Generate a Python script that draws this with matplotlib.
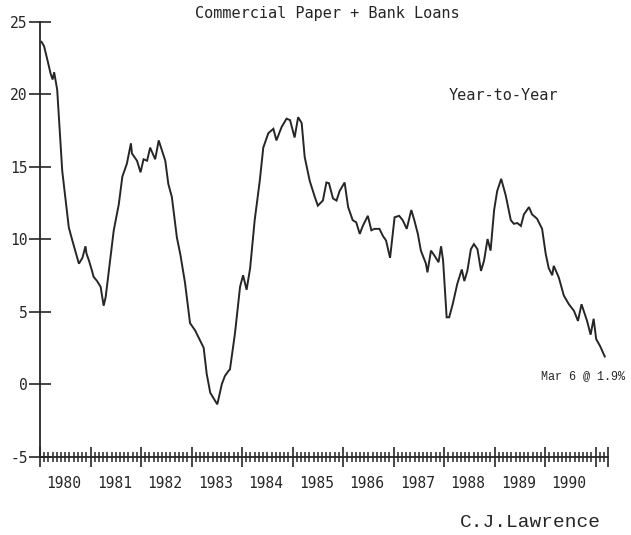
import matplotlib
matplotlib.use("Agg")
import matplotlib.pyplot as plt
from matplotlib.ticker import FixedLocator, NullFormatter
import matplotlib.transforms as mtransforms

# Year-over-year growth of commercial paper + bank loans (%), weekly readings
years = [
    1980.03, 1980.08, 1980.15, 1980.21, 1980.25, 1980.28, 1980.34, 1980.44,
    1980.57, 1980.64, 1980.77, 1980.84, 1980.90, 1980.92, 1980.97, 1981.03,
    1981.06, 1981.13, 1981.20, 1981.26, 1981.30, 1981.46, 1981.56, 1981.63,
    1981.72, 1981.80, 1981.82, 1981.92, 1981.99, 1982.05, 1982.12, 1982.18,
    1982.28, 1982.35, 1982.48, 1982.54, 1982.61, 1982.71, 1982.78, 1982.87,
    1982.97, 1983.07, 1983.17, 1983.24, 1983.30, 1983.37, 1983.43, 1983.51,
    1983.60, 1983.66, 1983.73, 1983.76, 1983.86, 1983.96, 1984.02, 1984.09,
    1984.16, 1984.25, 1984.35, 1984.42, 1984.52, 1984.62, 1984.68, 1984.78,
    1984.88, 1984.95, 1985.04, 1985.11, 1985.18, 1985.24, 1985.34, 1985.44,
    1985.50, 1985.60, 1985.67, 1985.72, 1985.80, 1985.87, 1985.93, 1986.03,
    1986.10, 1986.19, 1986.26, 1986.33, 1986.39, 1986.49, 1986.56, 1986.62,
    1986.72, 1986.79, 1986.85, 1986.93, 1987.02, 1987.11, 1987.18, 1987.26,
    1987.35, 1987.41, 1987.48, 1987.54, 1987.64, 1987.67, 1987.74, 1987.81,
    1987.89, 1987.94, 1987.98, 1988.05, 1988.10, 1988.17, 1988.26, 1988.35,
    1988.40, 1988.46, 1988.53, 1988.59, 1988.66, 1988.73, 1988.79, 1988.86,
    1988.92, 1988.99, 1989.05, 1989.13, 1989.22, 1989.32, 1989.38, 1989.45,
    1989.52, 1989.58, 1989.68, 1989.74, 1989.84, 1989.94, 1990.01, 1990.07,
    1990.14, 1990.17, 1990.27, 1990.37, 1990.47, 1990.57, 1990.65, 1990.72,
    1990.83, 1990.90, 1990.96, 1991.01, 1991.09, 1991.18,
]
growth = [
    23.6, 23.3, 22.3, 21.4, 21.0, 21.5, 20.3, 14.7,
    10.8, 9.9, 8.3, 8.7, 9.5, 9.0, 8.5, 7.8,
    7.4, 7.1, 6.7, 5.4, 6.0, 10.6, 12.4, 14.3,
    15.2, 16.6, 15.9, 15.4, 14.6, 15.5, 15.4, 16.3,
    15.5, 16.8, 15.4, 13.8, 12.9, 10.1, 8.9, 7.0,
    4.2, 3.7, 3.0, 2.5, 0.7, -0.6, -0.95, -1.4,
    0.0, 0.55, 0.9, 1.0, 3.5, 6.7, 7.5, 6.5,
    8.0, 11.3, 14.0, 16.3, 17.3, 17.6, 16.8, 17.7,
    18.3, 18.2, 17.0, 18.4, 18.0, 15.65, 14.0, 12.9,
    12.3, 12.65, 13.9, 13.85, 12.8, 12.65, 13.3, 13.9,
    12.2, 11.3, 11.15, 10.35, 10.9, 11.6, 10.6, 10.7,
    10.7, 10.2, 9.9, 8.7, 11.5, 11.6, 11.3, 10.7,
    12.0, 11.3, 10.35, 9.2, 8.3, 7.7, 9.2, 8.85,
    8.4, 9.5, 8.5, 4.6, 4.6, 5.5, 6.9, 7.9,
    7.1, 7.8, 9.3, 9.65, 9.3, 7.8, 8.5, 10.0,
    9.2, 12.0, 13.3, 14.15, 13.0, 11.3, 11.05, 11.1,
    10.9, 11.7, 12.2, 11.7, 11.4, 10.7, 9.0, 8.0,
    7.5, 8.15, 7.35, 6.1, 5.5, 5.05, 4.35, 5.5,
    4.35, 3.4, 4.5, 3.1, 2.6, 1.9,
]

year_labels = [str(y) for y in range(1980, 1991)]
y_ticks = [-5, 0, 5, 10, 15, 20, 25]
last_label = "Mar 6 @ 1.9%"

ink = "#262626"
mono = "DejaVu Sans Mono"

fig = plt.figure(figsize=(6.31, 5.35), dpi=100)
fig.patch.set_facecolor("white")
ax = fig.add_axes([0.0634, 0.1467, 0.9006, 0.8131])

ax.plot(years, growth, color=ink, lw=1.4, solid_joinstyle="miter")

ax.set_xlim(1980, 1991.25)
ax.set_ylim(-5, 25)

for side in ("top", "right"):
    ax.spines[side].set_visible(False)
for side in ("left", "bottom"):
    ax.spines[side].set_color(ink)
    ax.spines[side].set_linewidth(1.3)

# y axis: crossing ticks at every 5%
ax.set_yticks(y_ticks)
ax.set_yticklabels([str(v) for v in y_ticks], family=mono, fontsize=10.5, color=ink)
ax.tick_params(axis="y", direction="inout", length=16, width=1.2, color=ink, pad=1)

# x axis: year marks plus monthly minor marks, labels centred in each year
major = list(range(1980, 1992)) + [1991.25]
minor = [y + m / 12 for y in range(1980, 1992) for m in range(1, 12) if y + m / 12 < 1991.25]
ax.xaxis.set_major_locator(FixedLocator(major))
ax.xaxis.set_minor_locator(FixedLocator(minor))
ax.xaxis.set_major_formatter(NullFormatter())
ax.tick_params(axis="x", which="major", direction="inout", length=14, width=1.2, color=ink)
ax.tick_params(axis="x", which="minor", direction="inout", length=6.5, width=1.1, color=ink)

trans = mtransforms.blended_transform_factory(ax.transData, ax.transAxes)
for i, lab in enumerate(year_labels):
    ax.text(1980 + i + 0.47, -0.063, lab, transform=trans, ha="center", va="center",
            family=mono, fontsize=10.5, color=ink)

fig.text(0.518, 0.975, "Commercial Paper + Bank Loans", ha="center", va="center",
         family=mono, fontsize=11, color=ink)
fig.text(0.798, 0.822, "Year-to-Year", ha="center", va="center",
         family=mono, fontsize=11, color=ink)
fig.text(0.858, 0.297, last_label, ha="left", va="center",
         family="Liberation Mono", fontsize=8.5, color=ink)
fig.text(0.729, 0.024, "C.J.Lawrence", ha="left", va="center",
         family="Liberation Mono", fontsize=14, color=ink)

fig.savefig("out.png", dpi=100, facecolor="white")
